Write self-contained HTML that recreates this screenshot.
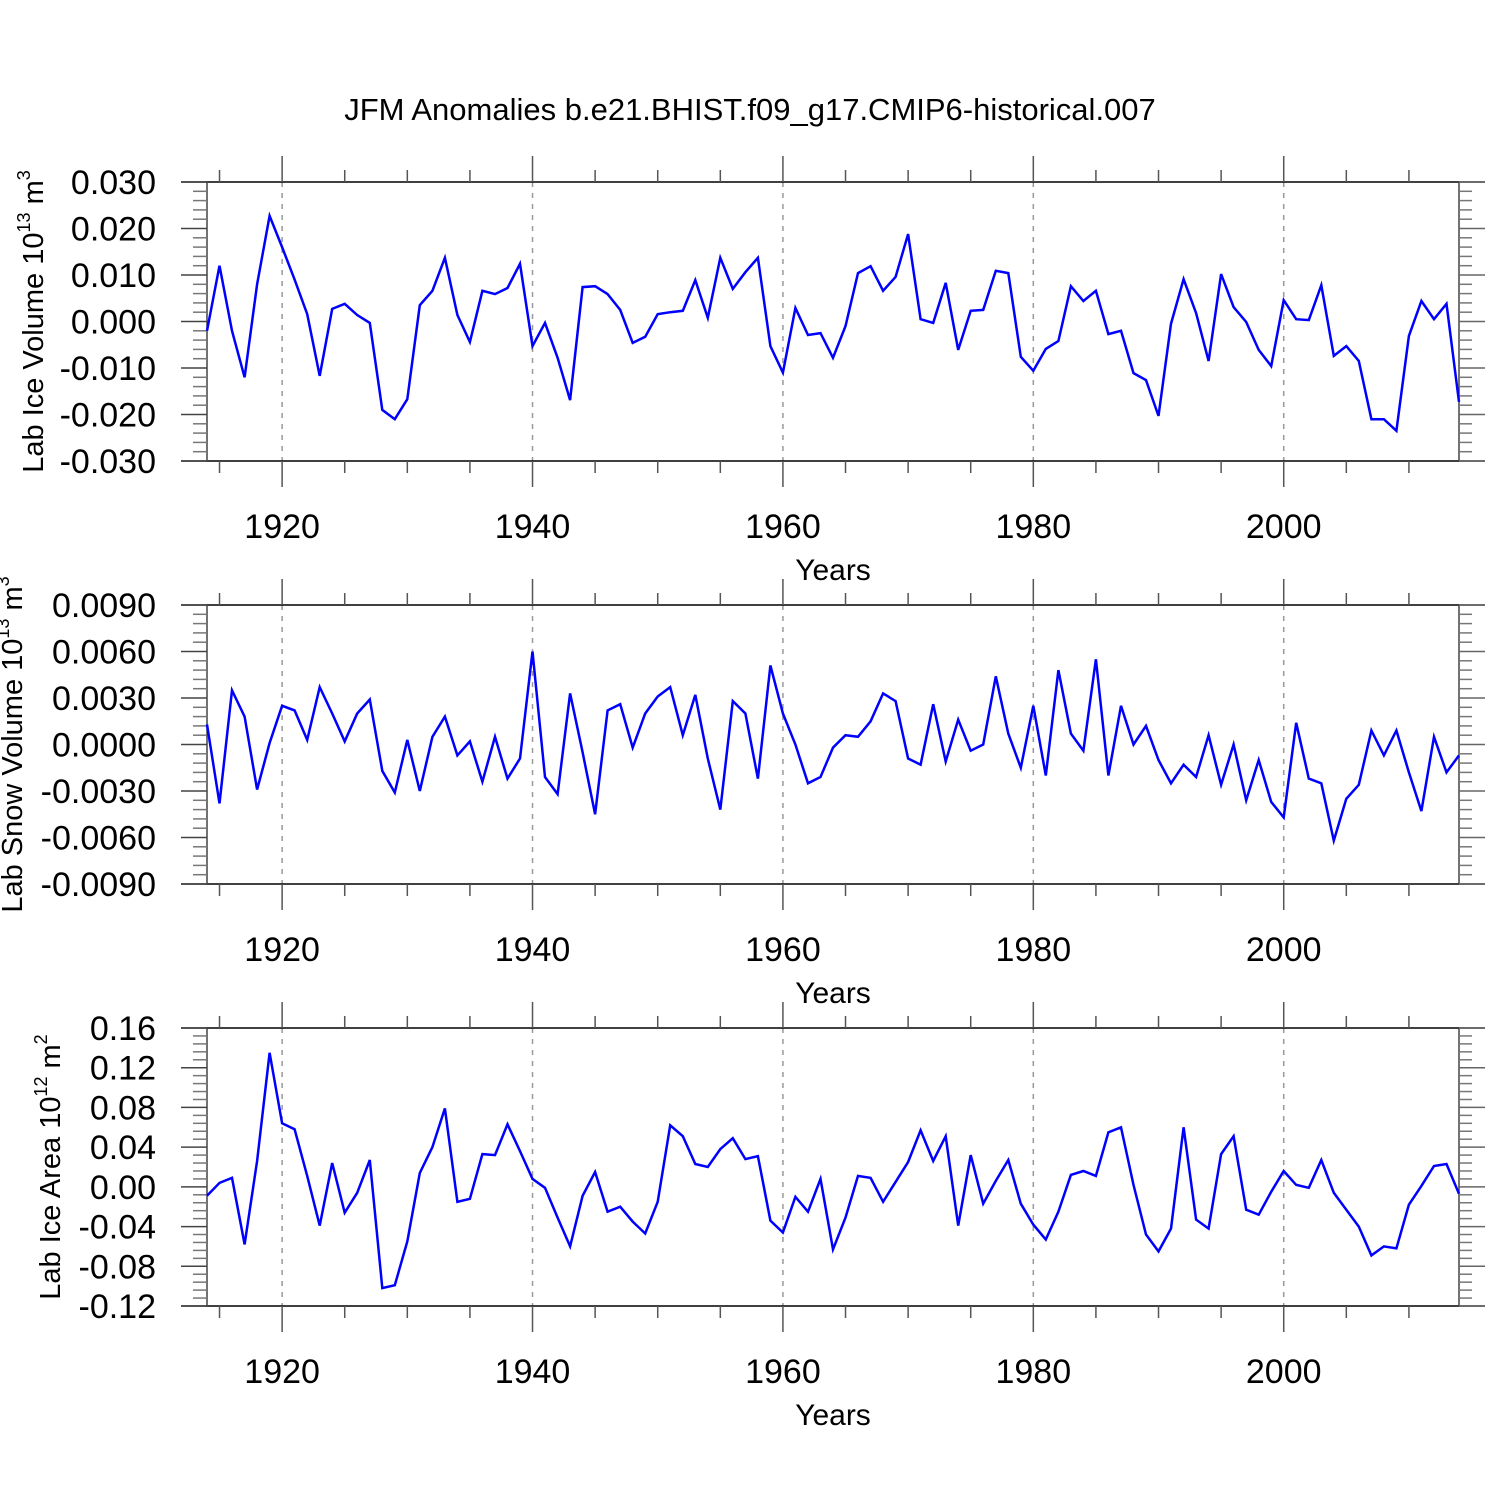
<!DOCTYPE html>
<html><head><meta charset="utf-8"><style>
html,body{margin:0;padding:0;background:#fff;}
svg{display:block;font-family:"Liberation Sans",Arial,sans-serif;}
</style></head><body>
<svg id="chart" width="1500" height="1500" viewBox="0 0 1500 1500" xmlns="http://www.w3.org/2000/svg">
<rect width="1500" height="1500" fill="#fff"/>
<text x="750" y="120" font-size="31" text-anchor="middle">JFM Anomalies b.e21.BHIST.f09_g17.CMIP6-historical.007</text>
</svg>
<script>
const years = [];
for (let y = 1914; y <= 2014; y++) years.push(y);
const iceVolume = [-0.002,0.012,-0.002,-0.012,0.008,0.0227,0.016,0.009,0.0016,-0.0117,0.0027,0.0038,0.0014,-0.0003,-0.019,-0.021,-0.0167,0.0035,0.0066,0.0137,0.0014,-0.0044,0.0066,0.0059,0.0072,0.0124,-0.0053,-0.0003,-0.0078,-0.0169,0.0074,0.0076,0.0059,0.0025,-0.0046,-0.0033,0.0016,0.002,0.0023,0.0089,0.0008,0.0137,0.007,0.0106,0.0137,-0.0053,-0.011,0.0029,-0.0029,-0.0025,-0.0078,-0.001,0.0104,0.0119,0.0066,0.0096,0.0188,0.0005,-0.0003,0.0083,-0.0061,0.0023,0.0025,0.0109,0.0104,-0.0076,-0.0106,-0.0059,-0.0042,0.0076,0.0044,0.0066,-0.0027,-0.002,-0.0111,-0.0126,-0.0203,-0.0005,0.0091,0.0018,-0.0085,0.0102,0.0031,-0.0001,-0.0061,-0.0096,0.0046,0.0005,0.0003,0.0078,-0.0074,-0.0053,-0.0085,-0.021,-0.021,-0.0235,-0.0031,0.0044,0.0005,0.0038,-0.0173];
const snowVolume = [0.0013,-0.0038,0.0035,0.0018,-0.0029,0.0001,0.0025,0.0022,0.0003,0.0037,0.002,0.0002,0.002,0.0029,-0.0017,-0.0031,0.0003,-0.003,0.0005,0.0018,-0.0007,0.0002,-0.0024,0.0005,-0.0022,-0.0009,0.006,-0.0021,-0.0032,0.0033,-0.0005,-0.0045,0.0022,0.0026,-0.0002,0.002,0.0031,0.0037,0.0006,0.0032,-0.0009,-0.0042,0.0028,0.002,-0.0022,0.0051,0.002,0,-0.0025,-0.0021,-0.0002,0.0006,0.0005,0.0015,0.0033,0.0028,-0.0009,-0.0013,0.0026,-0.0011,0.0016,-0.0004,0,0.0044,0.0007,-0.0015,0.0025,-0.002,0.0048,0.0007,-0.0004,0.0055,-0.002,0.0025,0,0.0012,-0.001,-0.0025,-0.0013,-0.0021,0.0006,-0.0026,0,-0.0036,-0.001,-0.0037,-0.0047,0.0014,-0.0022,-0.0025,-0.0062,-0.0035,-0.0026,0.0009,-0.0007,0.0009,-0.0018,-0.0043,0.0005,-0.0018,-0.0007];
const iceArea = [-0.009,0.004,0.009,-0.058,0.026,0.135,0.064,0.058,0.011,-0.039,0.024,-0.026,-0.006,0.027,-0.102,-0.099,-0.055,0.014,0.04,0.079,-0.015,-0.012,0.033,0.032,0.063,0.036,0.008,-0.001,-0.031,-0.06,-0.009,0.015,-0.025,-0.02,-0.035,-0.047,-0.015,0.062,0.051,0.023,0.02,0.038,0.049,0.028,0.031,-0.034,-0.046,-0.01,-0.025,0.008,-0.063,-0.031,0.011,0.009,-0.015,0.005,0.025,0.057,0.026,0.051,-0.039,0.032,-0.017,0.006,0.027,-0.017,-0.038,-0.053,-0.025,0.012,0.016,0.011,0.055,0.06,0.002,-0.048,-0.065,-0.042,0.06,-0.033,-0.042,0.033,0.051,-0.023,-0.028,-0.005,0.016,0.002,-0.001,0.027,-0.006,-0.023,-0.04,-0.069,-0.06,-0.062,-0.018,0.001,0.021,0.023,-0.007];
const xTickLabels = ["1920","1940","1960","1980","2000"];
const iceVolTicks = ["0.030","0.020","0.010","0.000","-0.010","-0.020","-0.030"];
const snowVolTicks = ["0.0090","0.0060","0.0030","0.0000","-0.0030","-0.0060","-0.0090"];
const iceAreaTicks = ["0.16","0.12","0.08","0.04","0.00","-0.04","-0.08","-0.12"];

const NS = "http://www.w3.org/2000/svg";
const svg = document.getElementById('chart');
function mk(tag, attrs, parent) {
  const e = document.createElementNS(NS, tag);
  for (const k in attrs) e.setAttribute(k, attrs[k]);
  (parent || svg).appendChild(e);
  return e;
}
const X0 = 207, X1 = 1459, xMin = 1914, xMax = 2014;
function xs(v) { return X0 + (v - xMin) / (xMax - xMin) * (X1 - X0); }

function panel(name, top, bottom, ticks, values, ylab, sup, unit, unitSup, labX) {
  const g = mk('g', {});
  
  
  const tv = ticks.map(Number);
  const yMax = tv[0], yMin = tv[tv.length - 1];
  const ys = v => top + (yMax - v) / (yMax - yMin) * (bottom - top);
  xTickLabels.forEach(t => {
    const x = xs(+t);
    const l = mk('line', {x1: x, x2: x, y1: top, y2: bottom, stroke: '#999', 'stroke-width': 1.5, 'stroke-dasharray': '5,6'}, g);
    
    
  });
  mk('line', {x1: 181, x2: 1485, y1: top, y2: top, stroke: '#000', 'stroke-width': 1.5}, g);
  mk('line', {x1: 181, x2: 1485, y1: bottom, y2: bottom, stroke: '#000', 'stroke-width': 1.5}, g);
  mk('line', {x1: X0, x2: X0, y1: top, y2: bottom, stroke: '#444', 'stroke-width': 1.5}, g);
  mk('line', {x1: X1, x2: X1, y1: top, y2: bottom, stroke: '#444', 'stroke-width': 1.5}, g);
  for (let yr = 1915; yr <= 2014; yr += 5) {
    const x = xs(yr), major = yr % 20 === 0;
    const len = major ? 26 : 12;
    mk('line', {x1: x, x2: x, y1: top, y2: top - len, stroke: '#555', 'stroke-width': 1.5}, g);
    mk('line', {x1: x, x2: x, y1: bottom, y2: bottom + len, stroke: '#555', 'stroke-width': 1.5}, g);
  }
  xTickLabels.forEach(t => {
    const tx = mk('text', {x: xs(+t), y: bottom + 77, 'font-size': 34, 'text-anchor': 'middle'}, g);
    tx.textContent = t;
    
    
  });
  const xt = mk('text', {x: 833, y: bottom + 119, 'font-size': 30, 'text-anchor': 'middle'}, g);
  xt.textContent = 'Years';
  
  
  const step = tv[0] - tv[1];
  for (let i = 0; i < tv.length; i++) {
    const y = ys(tv[i]);
    mk('line', {x1: 181, x2: X0, y1: y, y2: y, stroke: '#444', 'stroke-width': 1.5}, g);
    mk('line', {x1: X1, x2: 1485, y1: y, y2: y, stroke: '#666', 'stroke-width': 1.5}, g);
    const tx = mk('text', {x: 156, y: y + 12, 'font-size': 34, 'text-anchor': 'end'}, g);
    tx.textContent = ticks[i];
    
    
    if (i < tv.length - 1) {
      for (let k = 1; k < 5; k++) {
        const ym = ys(tv[i] - step * k / 5);
        mk('line', {x1: 193, x2: X0, y1: ym, y2: ym, stroke: '#777', 'stroke-width': 1.5}, g);
        mk('line', {x1: X1, x2: 1472, y1: ym, y2: ym, stroke: '#777', 'stroke-width': 1.5}, g);
      }
    }
  }
  const cy = (top + bottom) / 2;
  const yl = mk('text', {transform: `translate(${labX},${cy}) rotate(-90)`, 'font-size': 29, 'text-anchor': 'middle'}, g);
  
  
  const t1 = mk('tspan', {}, yl); t1.textContent = ylab + ' 10';
  const t2 = mk('tspan', {'font-size': 18, dy: -13}, yl); t2.textContent = sup;
  const t3 = mk('tspan', {dy: 13}, yl); t3.textContent = ' ' + unit;
  const t4 = mk('tspan', {'font-size': 18, dy: -13}, yl); t4.textContent = unitSup;
  const pts = values.map((v, i) => xs(years[i]).toFixed(1) + ',' + ys(v).toFixed(1)).join(' ');
  const pl = mk('polyline', {points: pts, fill: 'none', stroke: '#0000ff', 'stroke-width': 2.5, 'stroke-linejoin': 'miter'}, g);
  
  
}
panel('ice-volume', 182, 461, iceVolTicks, iceVolume, 'Lab Ice Volume', '13', 'm', '3', 43);
panel('snow-volume', 605, 884, snowVolTicks, snowVolume, 'Lab Snow Volume', '13', 'm', '3', 22);
panel('ice-area', 1028, 1306, iceAreaTicks, iceArea, 'Lab Ice Area', '12', 'm', '2', 60);
</script>
</body></html>
